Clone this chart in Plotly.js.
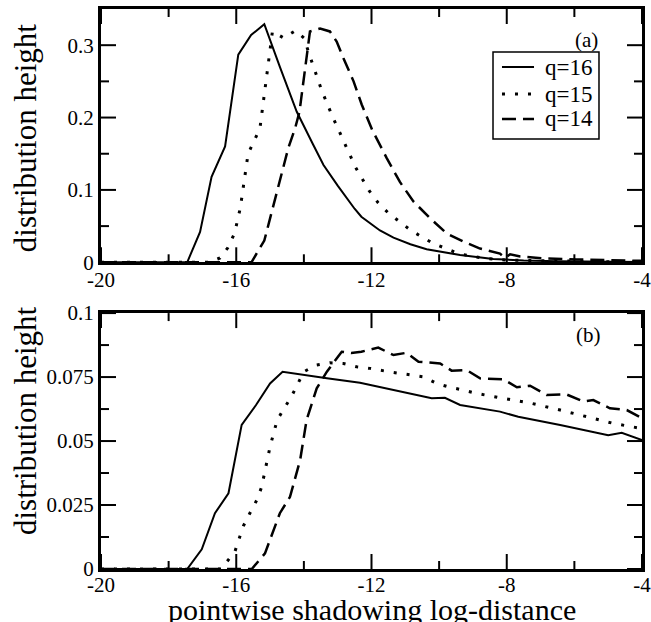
<!DOCTYPE html>
<html>
<head>
<meta charset="utf-8">
<script src="https://cdn.plot.ly/plotly-3.0.1.min.js"></script>
<style>html,body{margin:0;padding:0;background:#fff;}#chart{width:651px;height:622px;}</style>
</head>
<body>
<div id="chart"></div>
<script>
// ---- data: panel (a) ----
const x16a = [-20, -17.45, -17.07, -16.73, -16.33, -15.94, -15.56, -15.17, -14.71, -14.21, -13.72, -13.42, -13.0, -12.73, -12.5, -12.3, -12.0, -11.75, -11.35, -10.85, -10.37, -9.38, -8.40, -7.5, -6.5, -5.5, -4.5, -4];
const y16a = [0, 0, 0.042, 0.118, 0.160, 0.287, 0.314, 0.329, 0.270, 0.208, 0.162, 0.1345, 0.106, 0.0885, 0.074, 0.063, 0.052, 0.044, 0.034, 0.025, 0.018, 0.010, 0.0046, 0.0025, 0.0015, 0.001, 0.0006, 0.0005];
const x15a = [-20, -16.8, -16.48, -16.25, -16.05, -15.88, -15.65, -15.3, -14.93, -14.6, -14.25, -14.0, -13.75, -13.47, -13.15, -12.83, -12.47, -12.07, -11.8, -11.5, -11.16, -10.86, -10.51, -10.17, -9.8, -9.43, -9.09, -8.69, -8.0, -7.0, -6.0, -5.0, -4.0];
const y15a = [0, 0, 0.006, 0.02, 0.04, 0.075, 0.15, 0.185, 0.319, 0.31, 0.32, 0.31, 0.275, 0.237, 0.201, 0.167, 0.131, 0.099, 0.082, 0.068, 0.056, 0.045, 0.035, 0.026, 0.019, 0.012, 0.009, 0.0055, 0.003, 0.002, 0.0012, 0.0008, 0.0005];
const x14a = [-20, -15.55, -15.17, -14.9, -14.71, -14.46, -14.26, -14.13, -13.82, -13.52, -13.23, -13.03, -12.83, -12.53, -12.29, -11.97, -11.55, -11.16, -10.76, -10.27, -9.78, -9.28, -8.79, -8.2, -8.05, -7.9, -7.6, -6.92, -5.93, -4.45, -4];
const y14a = [0, 0, 0.03, 0.079, 0.116, 0.158, 0.185, 0.208, 0.319, 0.323, 0.319, 0.305, 0.282, 0.25, 0.218, 0.182, 0.144, 0.111, 0.084, 0.061, 0.040, 0.0285, 0.019, 0.012, 0.006, 0.011, 0.008, 0.0055, 0.004, 0.002, 0.002];
// ---- data: panel (b) ----
const x16b = [-20, -17.45, -17.02, -16.63, -16.23, -15.84, -15.42, -15.0, -14.63, -14.21, -13.32, -12.34, -11.35, -10.22, -9.83, -9.38, -8.2, -7.66, -6.42, -5.0, -4.6, -4.0];
const y16b = [0, 0, 0.0077, 0.0218, 0.0296, 0.0563, 0.064, 0.0725, 0.0771, 0.0762, 0.0745, 0.0728, 0.0699, 0.0667, 0.0669, 0.0641, 0.0615, 0.0595, 0.0563, 0.0523, 0.0532, 0.0504];
const x15b = [-20, -16.45, -16.04, -15.91, -15.79, -15.59, -15.39, -15.25, -15.0, -14.79, -14.57, -14.36, -14.0, -13.63, -13.23, -12.83, -12.44, -12.05, -11.5, -10.47, -10.07, -9.68, -9.28, -8.89, -8.1, -7.26, -6.42, -5.63, -4.85, -4.06];
const y15b = [0, 0, 0.0068, 0.012, 0.0168, 0.022, 0.027, 0.032, 0.0478, 0.0582, 0.0628, 0.0676, 0.0771, 0.0797, 0.0806, 0.0803, 0.079, 0.0784, 0.0771, 0.0751, 0.0725, 0.071, 0.0699, 0.0686, 0.0667, 0.0647, 0.0621, 0.0595, 0.0569, 0.055];
const x14b = [-20, -15.54, -15.15, -14.71, -14.41, -14.11, -13.92, -13.62, -13.32, -12.88, -12.6, -12.3, -11.8, -11.35, -10.96, -10.61, -9.97, -9.63, -9.18, -8.79, -8.1, -7.7, -7.31, -6.82, -6.23, -5.73, -5.44, -4.95, -4.45, -4.0];
const y14b = [0, 0, 0.0061, 0.0218, 0.0282, 0.0426, 0.0582, 0.0706, 0.0771, 0.0849, 0.0844, 0.0849, 0.0865, 0.0836, 0.0845, 0.081, 0.0803, 0.0775, 0.0777, 0.0745, 0.0741, 0.071, 0.0716, 0.068, 0.0682, 0.0654, 0.066, 0.0628, 0.0621, 0.0589];

const seriesNames = ['q=16', 'q=15', 'q=14'];

// tick positions
const xMajor = [-20, -16, -12, -8, -4];
const xMinor = [-18, -14, -10, -6];
const yMajorA = [0, 0.1, 0.2, 0.3];
const yMinorA = [0.05, 0.15, 0.25];
const yMajorB = [0, 0.025, 0.05, 0.075, 0.1];
const yMinorB = [0.0125, 0.0375, 0.0625, 0.0875];

const FONT = 'Liberation Serif';
const styles = [
  {color: 'black', width: 2, dash: 'solid'},
  {color: 'black', width: 3, dash: '3px,10px'},
  {color: 'black', width: 2.5, dash: '14px,7px'}
];

function tr(x, y, i, xa, ya) {
  return {x: x, y: y, type: 'scatter', mode: 'lines', name: seriesNames[i],
    line: styles[i], xaxis: xa, yaxis: ya, showlegend: false, hoverinfo: 'skip'};
}

const data = [
  tr(x16a, y16a, 0, 'x', 'y'),
  tr(x15a, y15a, 1, 'x', 'y'),
  tr(x14a, y14a, 2, 'x', 'y'),
  tr(x16b, y16b, 0, 'x2', 'y2'),
  tr(x15b, y15b, 1, 'x2', 'y2'),
  tr(x14b, y14b, 2, 'x2', 'y2')
];

const W = 651, H = 622, M = {l: 101, r: 9, t: 9, b: 53};
const PW = W - M.l - M.r, PH = H - M.t - M.b;
const XR = [-20, -4], YRA = [0, 0.35], YRB = [0, 0.1];
const DOM_A = [0.5477, 1], DOM_B = [0, 0.457];

function axisCommon(rng, vals) {
  return {
    range: rng, tickmode: 'array', tickvals: vals,
    ticks: '', showline: true, linewidth: 3, linecolor: 'black', mirror: true,
    showgrid: false, zeroline: false, ticklabeloverflow: 'allow',
    tickfont: {family: FONT, size: 21, color: 'black'}
  };
}

// inside ticks on all four sides (paper coordinates derived from the axis ranges)
const TICK = {major: 15, minor: 8, width: 2};
const shapes = [];
function xTicks(dom, vals, len) {
  const d = len / PH;
  vals.forEach(function (v) {
    const px = (v - XR[0]) / (XR[1] - XR[0]);
    shapes.push({type: 'line', xref: 'paper', yref: 'paper', x0: px, x1: px, y0: dom[0], y1: dom[0] + d, line: {color: 'black', width: TICK.width}, layer: 'above'});
    shapes.push({type: 'line', xref: 'paper', yref: 'paper', x0: px, x1: px, y0: dom[1], y1: dom[1] - d, line: {color: 'black', width: TICK.width}, layer: 'above'});
  });
}
function yTicks(dom, rng, vals, len) {
  const d = len / PW;
  vals.forEach(function (v) {
    const py = dom[0] + (v - rng[0]) / (rng[1] - rng[0]) * (dom[1] - dom[0]);
    shapes.push({type: 'line', xref: 'paper', yref: 'paper', x0: 0, x1: d, y0: py, y1: py, line: {color: 'black', width: TICK.width}, layer: 'above'});
    shapes.push({type: 'line', xref: 'paper', yref: 'paper', x0: 1, x1: 1 - d, y0: py, y1: py, line: {color: 'black', width: TICK.width}, layer: 'above'});
  });
}
xTicks(DOM_A, xMajor, TICK.major); xTicks(DOM_A, xMinor, TICK.minor);
xTicks(DOM_B, xMajor, TICK.major); xTicks(DOM_B, xMinor, TICK.minor);
yTicks(DOM_A, YRA, yMajorA, TICK.major); yTicks(DOM_A, YRA, yMinorA, TICK.minor);
yTicks(DOM_B, YRB, yMajorB, TICK.major); yTicks(DOM_B, YRB, yMinorB, TICK.minor);

// legend drawn in the top panel (paper coordinates)
const LEG = {x0: 0.7246, x1: 0.9205, y0: 0.7679, y1: 0.9232, lx0: 0.7412, lx1: 0.8004, tx: 0.817, rows: [0.8964, 0.8482, 0.8036]};
shapes.push({type: 'rect', xref: 'paper', yref: 'paper', x0: LEG.x0, x1: LEG.x1, y0: LEG.y0, y1: LEG.y1, line: {color: 'black', width: 1.5}, fillcolor: 'white', layer: 'above'});
const legendAnn = [];
seriesNames.forEach(function (nm, i) {
  shapes.push({type: 'line', xref: 'paper', yref: 'paper', x0: LEG.lx0, x1: LEG.lx1, y0: LEG.rows[i], y1: LEG.rows[i], line: styles[i], layer: 'above'});
  legendAnn.push({text: nm, xref: 'paper', yref: 'paper', x: LEG.tx, y: LEG.rows[i], xanchor: 'left', yanchor: 'middle', showarrow: false, font: {family: FONT, size: 23, color: 'black'}});
});

const layout = {
  width: W, height: H,
  margin: M,
  paper_bgcolor: 'white', plot_bgcolor: 'white',
  font: {family: FONT, color: 'black'},
  xaxis: Object.assign(axisCommon(XR, xMajor), {anchor: 'y', domain: [0, 1], ticktext: xMajor.map(String), ticklabelstandoff: -3}),
  yaxis: Object.assign(axisCommon(YRA, yMajorA), {anchor: 'x', domain: DOM_A}),
  xaxis2: Object.assign(axisCommon(XR, xMajor), {anchor: 'y2', domain: [0, 1], ticktext: xMajor.map(String), ticklabelstandoff: -5}),
  yaxis2: Object.assign(axisCommon(YRB, yMajorB), {anchor: 'x2', domain: DOM_B, ticktext: yMajorB.map(String)}),
  showlegend: false,
  shapes: shapes,
  annotations: legendAnn.concat([
    {text: '(a)', xref: 'paper', yref: 'paper', x: 0.8965, y: 0.9446, xanchor: 'center', yanchor: 'middle', showarrow: false, font: {family: FONT, size: 21, color: 'black'}},
    {text: '(b)', xref: 'paper', yref: 'paper', x: 0.902, y: 0.418, xanchor: 'center', yanchor: 'middle', showarrow: false, font: {family: FONT, size: 21, color: 'black'}},
    {text: 'distribution height', xref: 'paper', yref: 'paper', x: -0.1405, y: 0.771, xanchor: 'center', yanchor: 'middle', textangle: -90, showarrow: false, font: {family: FONT, size: 31, color: 'black'}},
    {text: 'distribution height', xref: 'paper', yref: 'paper', x: -0.1405, y: 0.266, xanchor: 'center', yanchor: 'middle', textangle: -90, showarrow: false, font: {family: FONT, size: 31, color: 'black'}},
    {text: 'pointwise shadowing log-distance', xref: 'paper', yref: 'paper', x: 0.5, y: -0.0716, xanchor: 'center', yanchor: 'middle', showarrow: false, font: {family: FONT, size: 30, color: 'black'}}
  ])
};

Plotly.newPlot('chart', data, layout, {displayModeBar: false, staticPlot: true});
</script>
</body>
</html>
